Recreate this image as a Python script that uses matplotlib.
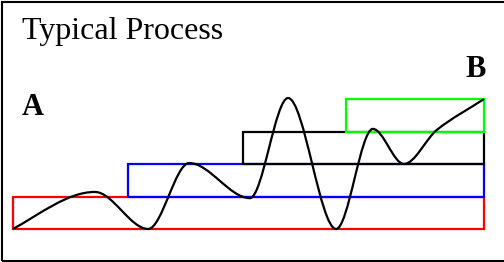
import matplotlib
matplotlib.use("Agg")
import matplotlib.pyplot as plt
from matplotlib.patches import Rectangle, PathPatch
from matplotlib.path import Path

# ---- data ----
title = "Typical Process"
start_label = "A"
end_label = "B"

# stage boxes: start position (0..100 scale), bottom level, colour
stage_starts = [0.0, 24.4, 48.8, 70.7]
stage_levels = [0, 1, 2, 3]
stage_colors = ["#ff0000", "#0000ff", "#000000", "#00ff00"]
stage_end = 100.0
stage_height = 1.0

# process curve knots (x, level) with tangent slopes
curve_x = [0.0, 17.4, 28.7, 37.4, 50.3, 58.4, 68.6, 76.4, 83.0, 90.0, 100.0]
curve_y = [0.0, 1.14, 0.0, 2.03, 0.95, 4.03, 0.0, 3.08, 2.0, 3.05, 4.0]
curve_slope = [0.08, 0.0, 0.0, 0.0, 0.0, 0.0, 0.0, 0.0, 0.0, 0.116, 0.096]

# ---- figure ----
fig = plt.figure(figsize=(5.04, 2.62), dpi=100)
ax = fig.add_axes([0, 0, 1, 1])
ax.set_xlim(-13 / 4.71, (504 - 13) / 4.71)
ax.set_ylim((229 - 262) / 32.5, 229 / 32.5)
ax.axis("off")

for s, lvl, c in zip(stage_starts, stage_levels, stage_colors):
    ax.add_patch(Rectangle((s, lvl), stage_end - s, stage_height,
                           fill=False, edgecolor=c, lw=1.6, zorder=2))

# smooth curve as cubic Bezier segments (Hermite form)
verts = [(curve_x[0], curve_y[0])]
codes = [Path.MOVETO]
for i in range(len(curve_x) - 1):
    dx = curve_x[i + 1] - curve_x[i]
    c1 = (curve_x[i] + dx / 3, curve_y[i] + curve_slope[i] * dx / 3)
    c2 = (curve_x[i + 1] - dx / 3, curve_y[i + 1] - curve_slope[i + 1] * dx / 3)
    verts += [c1, c2, (curve_x[i + 1], curve_y[i + 1])]
    codes += [Path.CURVE4] * 3
ax.add_patch(PathPatch(Path(verts, codes), fill=False, edgecolor="black",
                       lw=1.6, zorder=3))

serif = ["Liberation Serif", "DejaVu Serif"]
fig.text(22 / 504, 1 - 39 / 262, title, fontsize=23, family=serif,
         ha="left", va="baseline")
fig.text(22 / 504, 1 - 115 / 262, start_label, fontsize=22, family=serif,
         fontweight="bold", ha="left", va="baseline")
fig.text(486 / 504, 1 - 77 / 262, end_label, fontsize=22, family=serif,
         fontweight="bold", ha="right", va="baseline")

# outer frame
fig.add_artist(Rectangle((2 / 504, 1.5 / 262), 1.0, 1 - 3 / 262,
                         transform=fig.transFigure, fill=False,
                         edgecolor="black", lw=1.5, clip_on=False))

fig.savefig("out.png", dpi=100)
